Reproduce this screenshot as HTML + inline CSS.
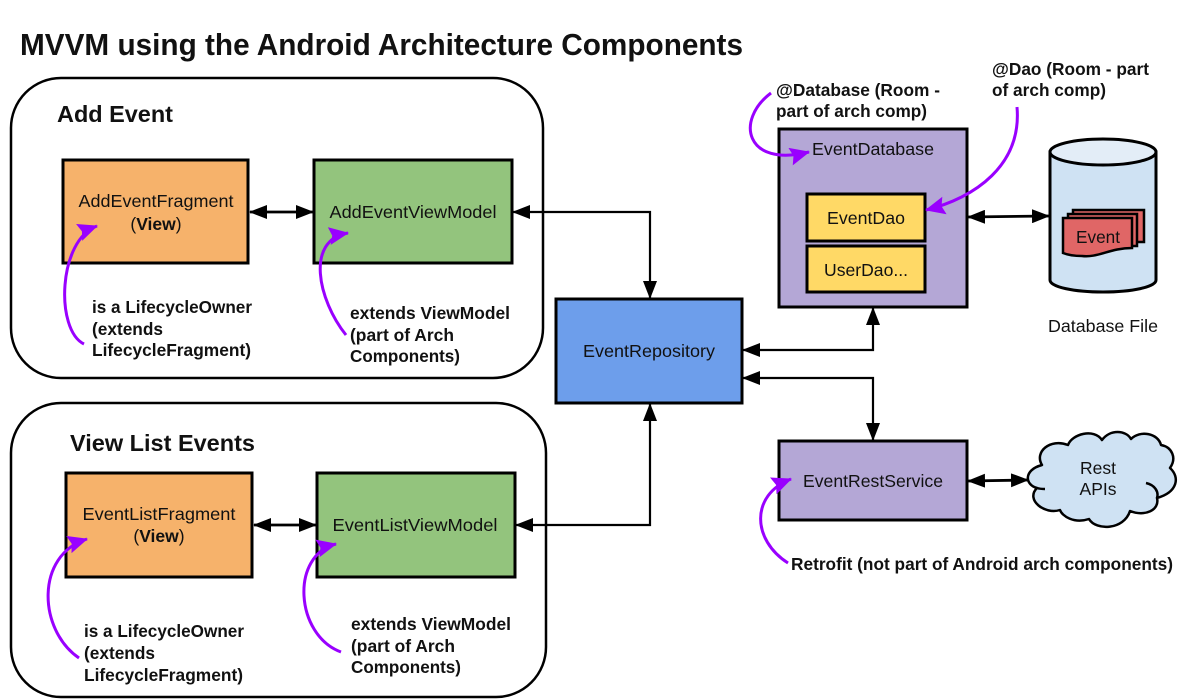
<!DOCTYPE html>
<html><head><meta charset="utf-8"><style>
html,body{margin:0;padding:0;background:#fff;width:1200px;height:700px;overflow:hidden}
svg{display:block}
text{font-family:"Liberation Sans",sans-serif;fill:#111}
.b{font-weight:bold}
.n{font-size:17.5px}
.l{font-size:17.5px;font-weight:bold}
</style></head><body>
<svg width="1200" height="700" viewBox="0 0 1200 700" xmlns="http://www.w3.org/2000/svg">
<defs>
<marker id="k" viewBox="0 0 18 14" refX="17" refY="7" markerWidth="18" markerHeight="14" markerUnits="userSpaceOnUse" orient="auto-start-reverse"><path d="M0 0L18 7L0 14z" fill="#000"/></marker>
<marker id="p" viewBox="0 0 20 18" refX="19" refY="9" markerWidth="20" markerHeight="18" markerUnits="userSpaceOnUse" orient="auto"><path d="M0 0L20 9L0 18L3 9z" fill="#9900ff"/></marker>
</defs>

<text x="20" y="55" class="b" font-size="31" textLength="723" lengthAdjust="spacingAndGlyphs">MVVM using the Android Architecture Components</text>

<rect x="11" y="78" width="532" height="300" rx="50" fill="#fff" stroke="#000" stroke-width="2.5"/>
<rect x="11" y="403" width="535" height="294" rx="50" fill="#fff" stroke="#000" stroke-width="2.5"/>
<text x="57" y="122" class="b" font-size="23" textLength="116" lengthAdjust="spacingAndGlyphs">Add Event</text>
<text x="70" y="451" class="b" font-size="23" textLength="185" lengthAdjust="spacingAndGlyphs">View List Events</text>

<g stroke="#000" stroke-width="3">
<rect x="63" y="160" width="185" height="103" fill="#f6b26b"/>
<rect x="314" y="160" width="198" height="103" fill="#93c47d"/>
<rect x="66" y="473" width="186" height="104" fill="#f6b26b"/>
<rect x="317" y="473" width="198" height="104" fill="#93c47d"/>
<rect x="556" y="299" width="186" height="104" fill="#6d9eeb"/>
<rect x="779" y="129" width="188" height="178" fill="#b4a7d6"/>
<rect x="807" y="194" width="118" height="47" fill="#ffd966"/>
<rect x="807" y="246" width="118" height="46" fill="#ffd966"/>
<rect x="779" y="441" width="188" height="79" fill="#b4a7d6"/>
</g>

<!-- cylinder -->
<path d="M1050 152V280C1050 287 1074 292 1103 292S1156 287 1156 280V152Z" fill="#cfe2f3" stroke="#000" stroke-width="3"/>
<ellipse cx="1103" cy="152" rx="53" ry="13" fill="#e3edf7" stroke="#000" stroke-width="3"/>
<!-- stacked doc -->
<g stroke="#000" stroke-width="2.5" fill="#e06666">
<rect x="1073" y="210" width="71" height="32"/>
<rect x="1068" y="214" width="69" height="32"/>
<path d="M1063 218H1132V248C1110 248 1098 258 1082 256C1073 256 1068 255 1063 253Z"/>
</g>

<!-- cloud -->
<path d="M1042 465C1034 452 1050 438 1068 445C1072 434 1094 428 1102 440C1110 429 1126 430 1131 439C1140 430 1158 433 1161 445C1172 447 1177 458 1170 468C1180 477 1178 492 1157 498C1160 510 1145 517 1130 511C1124 530 1096 531 1089 519C1074 524 1062 516 1060 510C1045 515 1025 500 1037 488C1025 485 1023 470 1042 465Z" fill="#cfe2f3" stroke="#000" stroke-width="2.5" stroke-linejoin="round"/>
<path d="M1146 483C1155 485 1159 492 1157 498M1037 488C1040 489 1043 489 1045 489" fill="none" stroke="#000" stroke-width="2.5"/>

<!-- black connectors -->
<g fill="none" stroke="#000" stroke-width="2.2">
<path d="M250 212H313" marker-start="url(#k)" marker-end="url(#k)" stroke-width="2.8"/>
<path d="M254 525H316" marker-start="url(#k)" marker-end="url(#k)" stroke-width="2.8"/>
<path d="M513 212H650V298" marker-start="url(#k)" marker-end="url(#k)"/>
<path d="M516 525H650V404" marker-start="url(#k)" marker-end="url(#k)"/>
<path d="M743 350H873V308" marker-start="url(#k)" marker-end="url(#k)"/>
<path d="M743 378H873V440" marker-start="url(#k)" marker-end="url(#k)"/>
<path d="M968 217L1049 216" marker-start="url(#k)" marker-end="url(#k)" stroke-width="2.8"/>
<path d="M968 481L1028 480" marker-start="url(#k)" marker-end="url(#k)" stroke-width="2.8"/>
</g>

<!-- purple connectors -->
<g fill="none" stroke="#9900ff" stroke-width="3">
<path d="M84 344C55 330 58 240 97 226" marker-end="url(#p)"/>
<path d="M346 335C318 300 305 240 348 233" marker-end="url(#p)"/>
<path d="M79 658C38 630 35 555 87 539" marker-end="url(#p)"/>
<path d="M341 652C295 635 290 555 336 544" marker-end="url(#p)"/>
<path d="M771 93C735 120 745 168 809 152" marker-end="url(#p)"/>
<path d="M1017 107C1022 165 975 198 926 210" marker-end="url(#p)"/>
<path d="M788 563C752 540 750 495 791 479" marker-end="url(#p)"/>
</g>

<!-- labels -->
<text x="156" y="207" class="n" text-anchor="middle" textLength="155" lengthAdjust="spacingAndGlyphs">AddEventFragment</text>
<text x="156" y="230" class="n" text-anchor="middle">(<tspan class="b">View</tspan>)</text>
<text x="413" y="218" class="n" text-anchor="middle" textLength="167" lengthAdjust="spacingAndGlyphs">AddEventViewModel</text>
<text x="159" y="520" class="n" text-anchor="middle" textLength="153" lengthAdjust="spacingAndGlyphs">EventListFragment</text>
<text x="159" y="542" class="n" text-anchor="middle">(<tspan class="b">View</tspan>)</text>
<text x="415" y="531" class="n" text-anchor="middle" textLength="165" lengthAdjust="spacingAndGlyphs">EventListViewModel</text>
<text x="649" y="357" class="n" text-anchor="middle" textLength="132" lengthAdjust="spacingAndGlyphs">EventRepository</text>
<text x="873" y="155" class="n" text-anchor="middle" textLength="122" lengthAdjust="spacingAndGlyphs">EventDatabase</text>
<text x="866" y="224" class="n" text-anchor="middle" textLength="78" lengthAdjust="spacingAndGlyphs">EventDao</text>
<text x="866" y="276" class="n" text-anchor="middle" textLength="84" lengthAdjust="spacingAndGlyphs">UserDao...</text>
<text x="1098" y="243" class="n" text-anchor="middle" textLength="44" lengthAdjust="spacingAndGlyphs">Event</text>
<text x="1103" y="332" class="n" text-anchor="middle" textLength="110" lengthAdjust="spacingAndGlyphs">Database File</text>
<text x="873" y="487" class="n" text-anchor="middle" textLength="140" lengthAdjust="spacingAndGlyphs">EventRestService</text>
<text x="1098" y="474" class="n" text-anchor="middle">Rest</text>
<text x="1098" y="495" class="n" text-anchor="middle">APIs</text>

<text x="92" y="313" class="l" textLength="160" lengthAdjust="spacingAndGlyphs">is a LifecycleOwner</text>
<text x="92" y="335" class="l" textLength="71" lengthAdjust="spacingAndGlyphs">(extends</text>
<text x="92" y="356" class="l" textLength="159" lengthAdjust="spacingAndGlyphs">LifecycleFragment)</text>
<text x="350" y="319" class="l" textLength="160" lengthAdjust="spacingAndGlyphs">extends ViewModel</text>
<text x="350" y="341" class="l" textLength="104" lengthAdjust="spacingAndGlyphs">(part of Arch</text>
<text x="350" y="362" class="l" textLength="110" lengthAdjust="spacingAndGlyphs">Components)</text>
<text x="84" y="637" class="l" textLength="160" lengthAdjust="spacingAndGlyphs">is a LifecycleOwner</text>
<text x="84" y="659" class="l" textLength="71" lengthAdjust="spacingAndGlyphs">(extends</text>
<text x="84" y="681" class="l" textLength="159" lengthAdjust="spacingAndGlyphs">LifecycleFragment)</text>
<text x="351" y="630" class="l" textLength="160" lengthAdjust="spacingAndGlyphs">extends ViewModel</text>
<text x="351" y="652" class="l" textLength="104" lengthAdjust="spacingAndGlyphs">(part of Arch</text>
<text x="351" y="673" class="l" textLength="110" lengthAdjust="spacingAndGlyphs">Components)</text>
<text x="776" y="96" class="l" textLength="164" lengthAdjust="spacingAndGlyphs">@Database (Room -</text>
<text x="776" y="117" class="l" textLength="151" lengthAdjust="spacingAndGlyphs">part of arch comp)</text>
<text x="992" y="75" class="l" textLength="157" lengthAdjust="spacingAndGlyphs">@Dao (Room - part</text>
<text x="992" y="96" class="l" textLength="114" lengthAdjust="spacingAndGlyphs">of arch comp)</text>
<text x="791" y="570" class="l" textLength="382" lengthAdjust="spacingAndGlyphs">Retrofit (not part of Android arch components)</text>
</svg>
</body></html>
